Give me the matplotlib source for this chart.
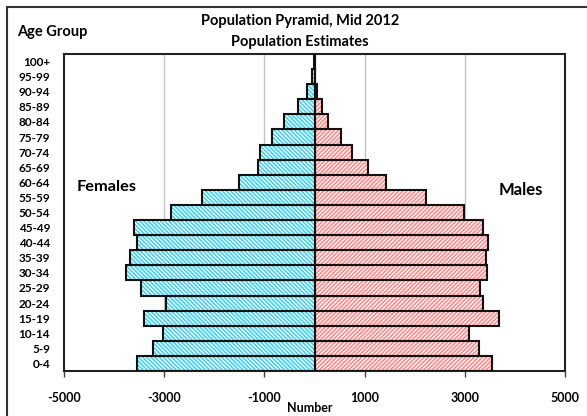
import matplotlib
matplotlib.use("Agg")
import matplotlib.pyplot as plt
from matplotlib.patches import Rectangle

plt.rcParams['font.family'] = ['Lato', 'DejaVu Sans']
plt.rcParams['font.weight'] = 'bold'
plt.rcParams['hatch.linewidth'] = 0.9

age_groups = ["0-4", "5-9", "10-14", "15-19", "20-24", "25-29", "30-34",
              "35-39", "40-44", "45-49", "50-54", "55-59", "60-64", "65-69",
              "70-74", "75-79", "80-84", "85-89", "90-94", "95-99", "100+"]
females = [3540, 3230, 3020, 3410, 2955, 3460, 3760, 3675, 3550, 3610, 2870,
           2240, 1505, 1120, 1080, 855, 615, 335, 150, 55, 10]
males = [3550, 3285, 3090, 3690, 3355, 3310, 3435, 3430, 3455, 3360, 2990,
         2230, 1425, 1070, 755, 525, 270, 145, 50, 15, 5]
x_ticks = [-5000, -3000, -1000, 1000, 3000, 5000]

W, H = 587, 416
fig = plt.figure(figsize=(W / 100, H / 100), dpi=100)
ax = fig.add_axes([64 / W, 1 - 371 / H, (565 - 64) / W, (371 - 54) / H])

pos = range(len(age_groups))
neg_f = [-v for v in females]

# hatched fill first, black outline on top
ax.barh(pos, neg_f, height=1, color='#45d3f2', edgecolor='white',
        hatch='\\' * 8, linewidth=0, zorder=2)
ax.barh(pos, males, height=1, color='#ff8c8c', edgecolor='white',
        hatch='/' * 8, linewidth=0, zorder=2)
ax.barh(pos, neg_f, height=1, fill=False, edgecolor='#111111',
        linewidth=1.5, zorder=3)
ax.barh(pos, males, height=1, fill=False, edgecolor='#111111',
        linewidth=1.5, zorder=3)

ax.set_xlim(-5000, 5000)
ax.set_ylim(-0.5, len(age_groups) - 0.5)
ax.set_xticks(x_ticks)
ax.set_xticklabels([str(t) for t in x_ticks], fontsize=9, fontweight='bold')
ax.set_yticks(list(pos))
ax.set_yticklabels(age_groups, fontsize=8.5, fontweight='bold')
ax.tick_params(axis='y', length=0, pad=10)
ax.tick_params(axis='x', length=4, width=1, direction='out', pad=11, color='#444444')
for t in [-3000, -1000, 1000, 3000]:
    ax.axvline(t, color='#c4c4c4', linewidth=1, zorder=1)
for s in ax.spines.values():
    s.set_linewidth(1.5)
    s.set_color('#222222')

fig.text(300 / W, 1 - 21 / H, "Population Pyramid, Mid 2012", ha='center',
         va='center', fontsize=10.5, fontweight='bold')
fig.text(300 / W, 1 - 42 / H, "Population Estimates", ha='center',
         va='center', fontsize=10.5, fontweight='bold')
fig.text(17 / W, 1 - 32 / H, "Age Group", ha='left', va='center',
         fontsize=10.5, fontweight='bold')
fig.text(107 / W, 1 - 187 / H, "Females", ha='center', va='center',
         fontsize=11.8, fontweight='bold')
fig.text(521 / W, 1 - 190 / H, "Males", ha='center', va='center',
         fontsize=12, fontweight='bold')
fig.text(310 / W, 1 - 408 / H, "Number", ha='center', va='center',
         fontsize=9, fontweight='bold')

fig.patches.append(Rectangle((6.5 / W, -0.1), 1.2, 1 - 6.5 / H + 0.1,
                             transform=fig.transFigure, fill=False,
                             edgecolor='#333333', linewidth=1.5))

fig.savefig("out.png", dpi=100)
